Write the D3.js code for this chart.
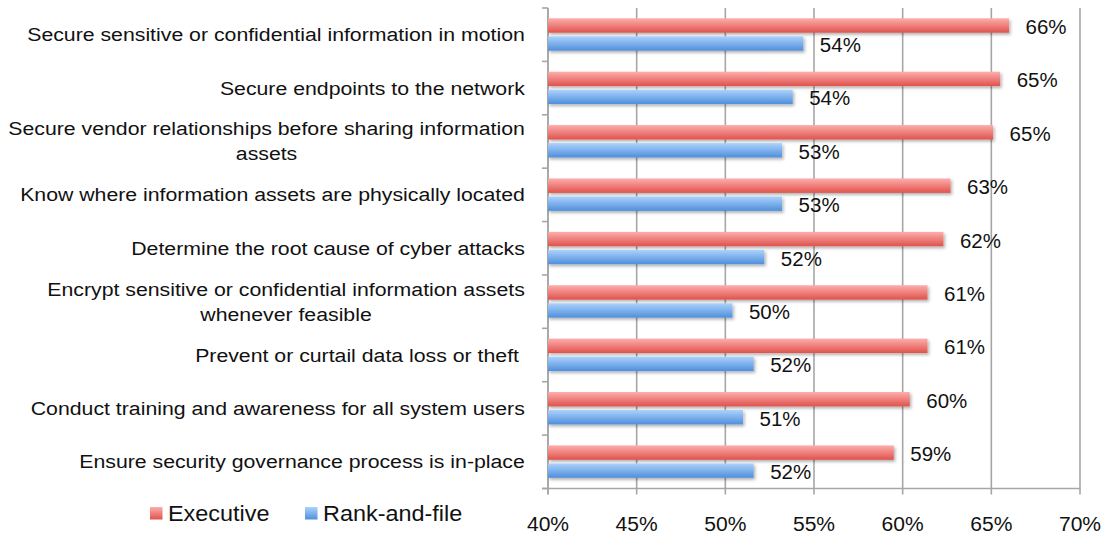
<!DOCTYPE html>
<html>
<head>
<meta charset="utf-8">
<script src="https://cdn.jsdelivr.net/npm/d3@7"></script>
<style>
body { margin: 0; background: #fff; overflow: hidden; }
svg { display: block; }
text { font-family: "Liberation Sans", Arial, Helvetica, sans-serif; fill: #111; }
</style>
</head>
<body>
<div class="svg"></div>
<script>
// chart data
var categories = [
    "Secure sensitive or confidential information in motion",
    "Secure endpoints to the network",
    "Secure vendor relationships before sharing information\nassets",
    "Know where information assets are physically located",
    "Determine the root cause of cyber attacks",
    "Encrypt sensitive or confidential information assets\nwhenever feasible",
    "Prevent or curtail data loss or theft ",
    "Conduct training and awareness for all system users",
    "Ensure security governance process is in-place"
];
var seriesNames = ["Executive", "Rank-and-file"];
var executive = [66.0, 65.5, 65.1, 62.7, 62.3, 61.4, 61.4, 60.4, 59.5];
var rankAndFile = [54.4, 53.8, 53.2, 53.2, 52.2, 50.4, 51.6, 51.0, 51.6];
var executiveLabels = ["66%", "65%", "65%", "63%", "62%", "61%", "61%", "60%", "59%"];
var rankAndFileLabels = ["54%", "54%", "53%", "53%", "52%", "50%", "52%", "51%", "52%"];
var xTicks = [40, 45, 50, 55, 60, 65, 70];

var width = 1105, height = 534;
var plotLeft = 548, plotRight = 1080, plotTop = 8, plotBottom = 488.5;

var svg = d3.select(".svg").append("svg").attr("width", width).attr("height", height);

// the source picture is a bit wider than it is tall, so text gets a small horizontal stretch
function stretch(t, sx) {
    var ax = +t.attr("x");
    t.attr("transform", "translate(" + ax + ",0) scale(" + sx + ",1) translate(" + (-ax) + ",0)");
}

// gradients + shadow
var defs = svg.append("defs");
function grad(id, c1, c2) {
    var g = defs.append("linearGradient").attr("id", id).attr("x1", 0).attr("y1", 0).attr("x2", 0).attr("y2", 1);
    g.append("stop").attr("offset", "0%").attr("stop-color", c1);
    g.append("stop").attr("offset", "100%").attr("stop-color", c2);
}
grad("gExec", "#fcaeac", "#e0524d");
grad("gRank", "#acd2fb", "#4f8fdc");
var f = defs.append("filter").attr("id", "shadow").attr("x", "-5%").attr("y", "-30%").attr("width", "115%").attr("height", "180%");
f.append("feDropShadow").attr("dx", 1.5).attr("dy", 2).attr("stdDeviation", 1.5).attr("flood-color", "#000").attr("flood-opacity", 0.3);

var x = d3.scaleLinear().domain([40, 70]).range([plotLeft, plotRight]);
var y = d3.scaleBand().domain(d3.range(categories.length)).range([plotTop, plotBottom]);
var ySub = d3.scaleBand().domain(seriesNames).range([10.3, 42.7]).paddingInner(0.2);

// gridlines
svg.append("g").selectAll("line").data(xTicks).enter().append("line")
    .attr("x1", function(d) { return x(d); }).attr("x2", function(d) { return x(d); })
    .attr("y1", plotTop).attr("y2", plotBottom + 6)
    .attr("stroke", "#a6a6a6").attr("stroke-width", 1.6);

// left axis with category ticks
svg.append("line").attr("x1", plotLeft).attr("x2", plotLeft).attr("y1", plotTop).attr("y2", plotBottom + 6)
    .attr("stroke", "#a6a6a6").attr("stroke-width", 1.6);
svg.append("g").selectAll("line").data(d3.range(categories.length + 1)).enter().append("line")
    .attr("x1", plotLeft - 6).attr("x2", plotLeft)
    .attr("y1", function(i) { return plotTop + i * y.step(); })
    .attr("y2", function(i) { return plotTop + i * y.step(); })
    .attr("stroke", "#a6a6a6").attr("stroke-width", 1.6);
// bottom axis line
svg.append("line").attr("x1", plotLeft - 6).attr("x2", plotRight).attr("y1", plotBottom).attr("y2", plotBottom)
    .attr("stroke", "#a6a6a6").attr("stroke-width", 1.6);

// x tick labels
svg.append("g").selectAll("text").data(xTicks).enter().append("text")
    .attr("x", function(d) { return x(d); }).attr("y", 531)
    .attr("text-anchor", "middle").attr("font-size", "19.5px")
    .text(function(d) { return d + "%"; })
    .each(function() { stretch(d3.select(this), 1.08); });

// bars
function drawSeries(values, labels, name, fill) {
    var g = svg.append("g");
    g.selectAll("rect").data(values).enter().append("rect")
        .attr("x", x(40))
        .attr("y", function(d, i) { return y(i) + ySub(name); })
        .attr("width", function(d) { return x(d) - x(40); })
        .attr("height", ySub.bandwidth())
        .attr("fill", fill).attr("filter", "url(#shadow)");
    g.selectAll("text").data(values).enter().append("text")
        .attr("x", function(d) { return x(d) + 16.5; })
        .attr("y", function(d, i) { return y(i) + ySub(name) + ySub.bandwidth() / 2 + 8.5; })
        .attr("font-size", "20.5px")
        .text(function(d, i) { return labels[i]; });
}
drawSeries(executive, executiveLabels, "Executive", "url(#gExec)");
drawSeries(rankAndFile, rankAndFileLabels, "Rank-and-file", "url(#gRank)");

// category labels, wrapped lines centred inside a right-aligned block
var lineH = 25, catStretch = 1.12;
categories.forEach(function(c, i) {
    var lines = c.split("\n");
    var cy = y(i) + y.bandwidth() / 2;
    var g = svg.append("g");
    var texts = lines.map(function(l, j) {
        return g.append("text").attr("font-size", "19px").style("white-space", "pre")
            .attr("y", cy + (j - (lines.length - 1) / 2) * lineH + 6.5).text(l);
    });
    var maxW = d3.max(texts, function(t) { return t.node().getComputedTextLength(); }) * catStretch;
    var cx = 525 - maxW / 2;
    texts.forEach(function(t) {
        t.attr("x", cx).attr("text-anchor", "middle");
        stretch(t, catStretch);
    });
});

// legend
var legendX = [150, 305];
var legendFill = ["url(#gExec)", "url(#gRank)"];
seriesNames.forEach(function(s, i) {
    svg.append("rect").attr("x", legendX[i]).attr("y", 507).attr("width", 12.5).attr("height", 12.5).attr("fill", legendFill[i]);
    var t = svg.append("text").attr("x", legendX[i] + 18).attr("y", 521.5).attr("font-size", "21.5px").text(s);
    stretch(t, 1.09);
});
</script>
</body>
</html>
